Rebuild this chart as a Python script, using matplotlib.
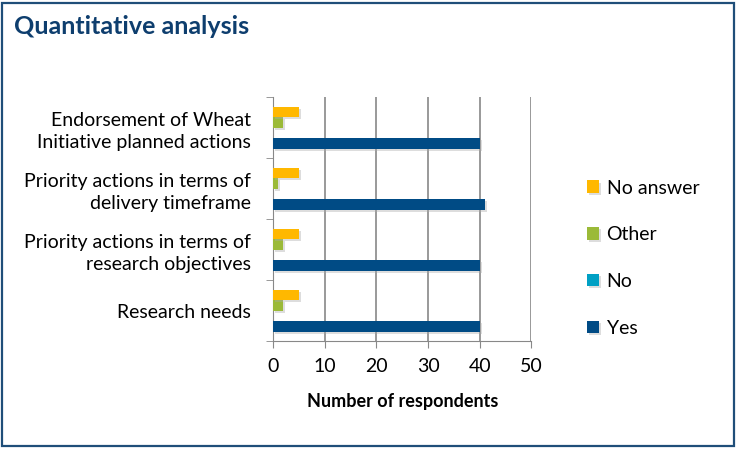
import matplotlib
matplotlib.use("Agg")
import matplotlib.pyplot as plt
import matplotlib.patheffects as pe
from matplotlib.patches import Rectangle
import numpy as np

plt.rcParams['font.family'] = ['Lato', 'DejaVu Sans']

categories = ["Research needs",
              "Priority actions in terms of\nresearch objectives",
              "Priority actions in terms of\ndelivery timeframe",
              "Endorsement of Wheat\nInitiative planned actions"]
series_names = ["Yes", "No", "Other", "No answer"]
yes = [40, 40, 41, 40]
no = [0, 0, 0, 0]
other = [2, 2, 1, 2]
no_answer = [5, 5, 5, 5]
values = [yes, no, other, no_answer]
colors = ["#004B85", "#00A0C4", "#9BBA38", "#FFB800"]
x_ticks = [0, 10, 20, 30, 40, 50]

fig = plt.figure(figsize=(7.36, 4.5), dpi=100)
ax = fig.add_axes([0.371, 0.242, 0.351, 0.542])

n = len(categories)
y = np.arange(n)
bh = 0.172
offsets = [-1.5 * bh, -0.5 * bh, 0.5 * bh, 1.5 * bh]
shadow = [pe.SimplePatchShadow(offset=(1.5, -1.5), shadow_rgbFace='#aaaaaa', alpha=0.4), pe.Normal()]
handles = []
for vals, off, col, name in zip(values, offsets, colors, series_names):
    b = ax.barh(y + off, vals, height=bh, color=col, label=name, zorder=3)
    for p in b:
        p.set_path_effects(shadow)
    handles.append(b)

ax.set_xlim(0, 50)
ax.set_ylim(-0.5, n - 0.5)
ax.set_xticks(x_ticks)
ax.set_xticklabels([str(t) for t in x_ticks], fontsize=14)
ax.set_yticks(y)
ax.set_yticklabels(categories, fontsize=14, linespacing=1.35)
ax.tick_params(axis='y', length=0, pad=16)
ax.set_yticks(np.arange(-0.5, n, 1), minor=True)
ax.tick_params(axis='y', which='minor', length=5, color='#888888', direction='out')
ax.tick_params(axis='x', length=5, color='#888888', direction='out', pad=7)
for lab in ax.get_yticklabels():
    lab.set_horizontalalignment('right')
    lab.set_multialignment('right')
ax.grid(axis='x', color='#888888', linewidth=1.2, zorder=0)
for s in ['top', 'right']:
    ax.spines[s].set_visible(False)
ax.spines['left'].set_color('#888888')
ax.spines['bottom'].set_color('#888888')
ax.set_xlabel("Number of respondents", fontsize=13, fontweight='bold', labelpad=13)

leg = fig.legend([handles[3], handles[2], handles[1], handles[0]],
                 ["No answer", "Other", "No", "Yes"],
                 loc='upper left', bbox_to_anchor=(0.774, 0.64), frameon=False,
                 fontsize=14, handlelength=0.6, handleheight=0.6, handletextpad=0.4,
                 labelspacing=1.53)

fig.text(0.019, 0.94, "Quantitative analysis", fontsize=18, fontweight='bold',
         color='#0E3E6E', ha='left', va='center')
fig.patches.append(Rectangle((0.003, 0.008), 0.994, 0.986, transform=fig.transFigure,
                             fill=False, edgecolor='#1F4E79', linewidth=1.6))

fig.savefig("out.png", dpi=100)
